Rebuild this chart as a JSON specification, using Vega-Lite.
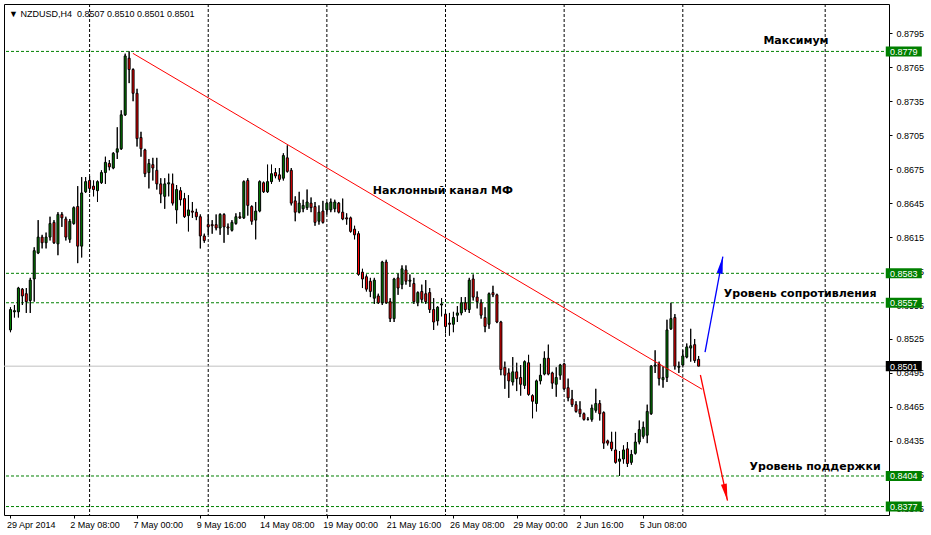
{
  "$schema": "https://vega.github.io/schema/vega-lite/v6.json",
  "width": 885,
  "height": 511,
  "autosize": {"type": "none"},
  "padding": {"left": 4, "top": 4, "right": 42, "bottom": 20},
  "background": "white",
  "title": {
    "text": "▼ NZDUSD,H4\u00a0\u00a00.8507 0.8510 0.8501 0.8501",
    "anchor": "start", "frame": "group", "orient": "top", "offset": 0,
    "baseline": "top", "dx": 5, "dy": 15,
    "font": "Liberation Sans", "fontSize": 9, "fontWeight": "normal", "color": "black"
  },
  "datasets": {
    "candles": [
      {"k":0,"o":0.8533,"h":0.8553,"l":0.8531,"c":0.8551},
      {"k":1,"o":0.8549,"h":0.8555,"l":0.8544,"c":0.8550},
      {"k":2,"o":0.8549,"h":0.8571,"l":0.8544,"c":0.8570},
      {"k":3,"o":0.8569,"h":0.8570,"l":0.8555,"c":0.8563},
      {"k":4,"o":0.8565,"h":0.8570,"l":0.8548,"c":0.8558},
      {"k":5,"o":0.8559,"h":0.8579,"l":0.8548,"c":0.8577},
      {"k":6,"o":0.8578,"h":0.8606,"l":0.8558,"c":0.8603},
      {"k":7,"o":0.8601,"h":0.8630,"l":0.8600,"c":0.8615},
      {"k":8,"o":0.8615,"h":0.8617,"l":0.8605,"c":0.8610},
      {"k":9,"o":0.8610,"h":0.8619,"l":0.8605,"c":0.8615},
      {"k":10,"o":0.8615,"h":0.8633,"l":0.8612,"c":0.8627},
      {"k":11,"o":0.8628,"h":0.8630,"l":0.8609,"c":0.8610},
      {"k":12,"o":0.8609,"h":0.8637,"l":0.8599,"c":0.8635},
      {"k":13,"o":0.8635,"h":0.8637,"l":0.8624,"c":0.8632},
      {"k":14,"o":0.8631,"h":0.8633,"l":0.8612,"c":0.8615},
      {"k":15,"o":0.8613,"h":0.8631,"l":0.8610,"c":0.8629},
      {"k":16,"o":0.8627,"h":0.8642,"l":0.8626,"c":0.8641},
      {"k":17,"o":0.8642,"h":0.8660,"l":0.8592,"c":0.8607},
      {"k":18,"o":0.8607,"h":0.8668,"l":0.8597,"c":0.8654},
      {"k":19,"o":0.8655,"h":0.8668,"l":0.8654,"c":0.8664},
      {"k":20,"o":0.8665,"h":0.8669,"l":0.8654,"c":0.8658},
      {"k":21,"o":0.8660,"h":0.8665,"l":0.8651,"c":0.8657},
      {"k":22,"o":0.8656,"h":0.8665,"l":0.8646,"c":0.8664},
      {"k":23,"o":0.8663,"h":0.8674,"l":0.8662,"c":0.8672},
      {"k":24,"o":0.8672,"h":0.8686,"l":0.8662,"c":0.8681},
      {"k":25,"o":0.8680,"h":0.8683,"l":0.8674,"c":0.8677},
      {"k":26,"o":0.8676,"h":0.8690,"l":0.8675,"c":0.8689},
      {"k":27,"o":0.8690,"h":0.8712,"l":0.8684,"c":0.8693},
      {"k":28,"o":0.8693,"h":0.8727,"l":0.8692,"c":0.8723},
      {"k":29,"o":0.8723,"h":0.8777,"l":0.8722,"c":0.8775},
      {"k":30,"o":0.8773,"h":0.8779,"l":0.8751,"c":0.8763},
      {"k":31,"o":0.8763,"h":0.8764,"l":0.8735,"c":0.8742},
      {"k":32,"o":0.8742,"h":0.8746,"l":0.8695,"c":0.8702},
      {"k":33,"o":0.8703,"h":0.8708,"l":0.8686,"c":0.8693},
      {"k":34,"o":0.8692,"h":0.8693,"l":0.8668,"c":0.8671},
      {"k":35,"o":0.8672,"h":0.8684,"l":0.8658,"c":0.8680},
      {"k":36,"o":0.8679,"h":0.8685,"l":0.8665,"c":0.8676},
      {"k":37,"o":0.8674,"h":0.8685,"l":0.8657,"c":0.8662},
      {"k":38,"o":0.8662,"h":0.8667,"l":0.8645,"c":0.8653},
      {"k":39,"o":0.8651,"h":0.8667,"l":0.8640,"c":0.8662},
      {"k":40,"o":0.8662,"h":0.8671,"l":0.8651,"c":0.8663},
      {"k":41,"o":0.8662,"h":0.8671,"l":0.8643,"c":0.8645},
      {"k":42,"o":0.8639,"h":0.8661,"l":0.8627,"c":0.8657},
      {"k":43,"o":0.8656,"h":0.8659,"l":0.8643,"c":0.8648},
      {"k":44,"o":0.8649,"h":0.8654,"l":0.8632,"c":0.8633},
      {"k":45,"o":0.8634,"h":0.8652,"l":0.8620,"c":0.8639},
      {"k":46,"o":0.8638,"h":0.8646,"l":0.8632,"c":0.8637},
      {"k":47,"o":0.8637,"h":0.8640,"l":0.8630,"c":0.8633},
      {"k":48,"o":0.8633,"h":0.8635,"l":0.8605,"c":0.8616},
      {"k":49,"o":0.8616,"h":0.8618,"l":0.8610,"c":0.8612},
      {"k":50,"o":0.8626,"h":0.8635,"l":0.8617,"c":0.8624},
      {"k":51,"o":0.8626,"h":0.8630,"l":0.8618,"c":0.8625},
      {"k":52,"o":0.8626,"h":0.8635,"l":0.8621,"c":0.8623},
      {"k":53,"o":0.8623,"h":0.8636,"l":0.8617,"c":0.8635},
      {"k":54,"o":0.8635,"h":0.8636,"l":0.8610,"c":0.8624},
      {"k":55,"o":0.8624,"h":0.8627,"l":0.8617,"c":0.8623},
      {"k":56,"o":0.8621,"h":0.8630,"l":0.8620,"c":0.8628},
      {"k":57,"o":0.8627,"h":0.8636,"l":0.8626,"c":0.8633},
      {"k":58,"o":0.8633,"h":0.8637,"l":0.8631,"c":0.8632},
      {"k":59,"o":0.8632,"h":0.8665,"l":0.8631,"c":0.8664},
      {"k":60,"o":0.8665,"h":0.8667,"l":0.8634,"c":0.8643},
      {"k":61,"o":0.8642,"h":0.8643,"l":0.8626,"c":0.8629},
      {"k":62,"o":0.8630,"h":0.8646,"l":0.8613,"c":0.8638},
      {"k":63,"o":0.8638,"h":0.8665,"l":0.8637,"c":0.8664},
      {"k":64,"o":0.8663,"h":0.8664,"l":0.8654,"c":0.8655},
      {"k":65,"o":0.8655,"h":0.8679,"l":0.8654,"c":0.8664},
      {"k":66,"o":0.8664,"h":0.8679,"l":0.8662,"c":0.8671},
      {"k":67,"o":0.8672,"h":0.8676,"l":0.8667,"c":0.8669},
      {"k":68,"o":0.8670,"h":0.8676,"l":0.8664,"c":0.8666},
      {"k":69,"o":0.8667,"h":0.8689,"l":0.8665,"c":0.8687},
      {"k":70,"o":0.8685,"h":0.8696,"l":0.8672,"c":0.8673},
      {"k":71,"o":0.8674,"h":0.8676,"l":0.8643,"c":0.8645},
      {"k":72,"o":0.8647,"h":0.8651,"l":0.8629,"c":0.8637},
      {"k":73,"o":0.8637,"h":0.8655,"l":0.8636,"c":0.8645},
      {"k":74,"o":0.8640,"h":0.8648,"l":0.8637,"c":0.8643},
      {"k":75,"o":0.8641,"h":0.8657,"l":0.8639,"c":0.8646},
      {"k":76,"o":0.8645,"h":0.8650,"l":0.8637,"c":0.8641},
      {"k":77,"o":0.8642,"h":0.8646,"l":0.8625,"c":0.8628},
      {"k":78,"o":0.8629,"h":0.8643,"l":0.8626,"c":0.8637},
      {"k":79,"o":0.8638,"h":0.8647,"l":0.8627,"c":0.8628},
      {"k":80,"o":0.8639,"h":0.8646,"l":0.8635,"c":0.8645},
      {"k":81,"o":0.8639,"h":0.8649,"l":0.8637,"c":0.8646},
      {"k":82,"o":0.8640,"h":0.8648,"l":0.8637,"c":0.8646},
      {"k":83,"o":0.8645,"h":0.8646,"l":0.8636,"c":0.8637},
      {"k":84,"o":0.8637,"h":0.8649,"l":0.8630,"c":0.8631},
      {"k":85,"o":0.8632,"h":0.8636,"l":0.8626,"c":0.8631},
      {"k":86,"o":0.8632,"h":0.8633,"l":0.8619,"c":0.8620},
      {"k":87,"o":0.8622,"h":0.8625,"l":0.8613,"c":0.8617},
      {"k":88,"o":0.8618,"h":0.8620,"l":0.8581,"c":0.8582},
      {"k":89,"o":0.8584,"h":0.8587,"l":0.8570,"c":0.8578},
      {"k":90,"o":0.8580,"h":0.8582,"l":0.8567,"c":0.8569},
      {"k":91,"o":0.8576,"h":0.8579,"l":0.8562,"c":0.8567},
      {"k":92,"o":0.8561,"h":0.8579,"l":0.8556,"c":0.8577},
      {"k":93,"o":0.8563,"h":0.8565,"l":0.8556,"c":0.8557},
      {"k":94,"o":0.8557,"h":0.8594,"l":0.8555,"c":0.8593},
      {"k":95,"o":0.8593,"h":0.8595,"l":0.8556,"c":0.8557},
      {"k":96,"o":0.8558,"h":0.8561,"l":0.8540,"c":0.8543},
      {"k":97,"o":0.8543,"h":0.8579,"l":0.8540,"c":0.8578},
      {"k":98,"o":0.8579,"h":0.8583,"l":0.8564,"c":0.8570},
      {"k":99,"o":0.8573,"h":0.8590,"l":0.8569,"c":0.8587},
      {"k":100,"o":0.8586,"h":0.8590,"l":0.8573,"c":0.8576},
      {"k":101,"o":0.8576,"h":0.8582,"l":0.8571,"c":0.8577},
      {"k":102,"o":0.8574,"h":0.8579,"l":0.8556,"c":0.8558},
      {"k":103,"o":0.8557,"h":0.8567,"l":0.8554,"c":0.8566},
      {"k":104,"o":0.8567,"h":0.8573,"l":0.8557,"c":0.8560},
      {"k":105,"o":0.8565,"h":0.8577,"l":0.8556,"c":0.8558},
      {"k":106,"o":0.8566,"h":0.8570,"l":0.8548,"c":0.8551},
      {"k":107,"o":0.8551,"h":0.8561,"l":0.8533,"c":0.8540},
      {"k":108,"o":0.8541,"h":0.8554,"l":0.8537,"c":0.8553},
      {"k":109,"o":0.8555,"h":0.8561,"l":0.8545,"c":0.8556},
      {"k":110,"o":0.8547,"h":0.8549,"l":0.8530,"c":0.8536},
      {"k":111,"o":0.8539,"h":0.8548,"l":0.8528,"c":0.8538},
      {"k":112,"o":0.8538,"h":0.8549,"l":0.8531,"c":0.8544},
      {"k":113,"o":0.8546,"h":0.8554,"l":0.8540,"c":0.8548},
      {"k":114,"o":0.8548,"h":0.8562,"l":0.8546,"c":0.8557},
      {"k":115,"o":0.8557,"h":0.8562,"l":0.8549,"c":0.8551},
      {"k":116,"o":0.8551,"h":0.8579,"l":0.8548,"c":0.8577},
      {"k":117,"o":0.8578,"h":0.8582,"l":0.8559,"c":0.8562},
      {"k":118,"o":0.8562,"h":0.8567,"l":0.8552,"c":0.8558},
      {"k":119,"o":0.8557,"h":0.8560,"l":0.8543,"c":0.8546},
      {"k":120,"o":0.8544,"h":0.8553,"l":0.8531,"c":0.8536},
      {"k":121,"o":0.8538,"h":0.8566,"l":0.8534,"c":0.8565},
      {"k":122,"o":0.8566,"h":0.8572,"l":0.8562,"c":0.8564},
      {"k":123,"o":0.8564,"h":0.8565,"l":0.8539,"c":0.8540},
      {"k":124,"o":0.8540,"h":0.8541,"l":0.8493,"c":0.8498},
      {"k":125,"o":0.8500,"h":0.8505,"l":0.8481,"c":0.8493},
      {"k":126,"o":0.8495,"h":0.8499,"l":0.8473,"c":0.8488},
      {"k":127,"o":0.8487,"h":0.8509,"l":0.8484,"c":0.8496},
      {"k":128,"o":0.8496,"h":0.8504,"l":0.8479,"c":0.8490},
      {"k":129,"o":0.8491,"h":0.8502,"l":0.8475,"c":0.8485},
      {"k":130,"o":0.8484,"h":0.8506,"l":0.8481,"c":0.8505},
      {"k":131,"o":0.8504,"h":0.8511,"l":0.8475,"c":0.8476},
      {"k":132,"o":0.8475,"h":0.8476,"l":0.8455,"c":0.8470},
      {"k":133,"o":0.8468,"h":0.8489,"l":0.8461,"c":0.8488},
      {"k":134,"o":0.8488,"h":0.8503,"l":0.8485,"c":0.8493},
      {"k":135,"o":0.8494,"h":0.8514,"l":0.8493,"c":0.8508},
      {"k":136,"o":0.8508,"h":0.8520,"l":0.8493,"c":0.8494},
      {"k":137,"o":0.8495,"h":0.8496,"l":0.8481,"c":0.8486},
      {"k":138,"o":0.8485,"h":0.8500,"l":0.8474,"c":0.8491},
      {"k":139,"o":0.8493,"h":0.8503,"l":0.8489,"c":0.8502},
      {"k":140,"o":0.8503,"h":0.8504,"l":0.8480,"c":0.8481},
      {"k":141,"o":0.8482,"h":0.8490,"l":0.8470,"c":0.8473},
      {"k":142,"o":0.8472,"h":0.8480,"l":0.8465,"c":0.8467},
      {"k":143,"o":0.8467,"h":0.8470,"l":0.8460,"c":0.8461},
      {"k":144,"o":0.8463,"h":0.8470,"l":0.8456,"c":0.8459},
      {"k":145,"o":0.8459,"h":0.8460,"l":0.8453,"c":0.8454},
      {"k":146,"o":0.8454,"h":0.8456,"l":0.8453,"c":0.8454},
      {"k":147,"o":0.8454,"h":0.8467,"l":0.8452,"c":0.8464},
      {"k":148,"o":0.8462,"h":0.8481,"l":0.8460,"c":0.8468},
      {"k":149,"o":0.8468,"h":0.8471,"l":0.8453,"c":0.8459},
      {"k":150,"o":0.8460,"h":0.8461,"l":0.8428,"c":0.8433},
      {"k":151,"o":0.8435,"h":0.8436,"l":0.8431,"c":0.8433},
      {"k":152,"o":0.8434,"h":0.8443,"l":0.8426,"c":0.8428},
      {"k":153,"o":0.8427,"h":0.8443,"l":0.8415,"c":0.8416},
      {"k":154,"o":0.8417,"h":0.8426,"l":0.8404,"c":0.8419},
      {"k":155,"o":0.8419,"h":0.8431,"l":0.8415,"c":0.8427},
      {"k":156,"o":0.8428,"h":0.8434,"l":0.8412,"c":0.8415},
      {"k":157,"o":0.8416,"h":0.8427,"l":0.8414,"c":0.8423},
      {"k":158,"o":0.8424,"h":0.8442,"l":0.8423,"c":0.8434},
      {"k":159,"o":0.8434,"h":0.8453,"l":0.8432,"c":0.8445},
      {"k":160,"o":0.8439,"h":0.8452,"l":0.8437,"c":0.8447},
      {"k":161,"o":0.8440,"h":0.8467,"l":0.8433,"c":0.8461},
      {"k":162,"o":0.8459,"h":0.8502,"l":0.8458,"c":0.8501},
      {"k":163,"o":0.8501,"h":0.8515,"l":0.8495,"c":0.8502},
      {"k":164,"o":0.8503,"h":0.8505,"l":0.8484,"c":0.8490},
      {"k":165,"o":0.8489,"h":0.8501,"l":0.8482,"c":0.8491},
      {"k":166,"o":0.8491,"h":0.8542,"l":0.8487,"c":0.8533},
      {"k":167,"o":0.8534,"h":0.8557,"l":0.8533,"c":0.8543},
      {"k":168,"o":0.8544,"h":0.8547,"l":0.8498,"c":0.8501},
      {"k":169,"o":0.8500,"h":0.8505,"l":0.8495,"c":0.8501},
      {"k":170,"o":0.8502,"h":0.8515,"l":0.8500,"c":0.8510},
      {"k":171,"o":0.8509,"h":0.8521,"l":0.8508,"c":0.8518},
      {"k":172,"o":0.8517,"h":0.8534,"l":0.8505,"c":0.8519},
      {"k":173,"o":0.8520,"h":0.8525,"l":0.8504,"c":0.8506},
      {"k":174,"o":0.8507,"h":0.8510,"l":0.8501,"c":0.8501}
    ],
    "levels": [
      {"price":0.8779,"kind":"level"},
      {"price":0.8583,"kind":"level"},
      {"price":0.8557,"kind":"level"},
      {"price":0.8404,"kind":"level"},
      {"price":0.8377,"kind":"level"},
      {"price":0.8501,"kind":"bid"}
    ]
  },
  "layer": [
    {
      "data": {"name": "candles"},
      "mark": {"type": "rule", "color": "black", "strokeWidth": 1},
      "encoding": {
        "x": {
          "field": "k", "type": "quantitative", "title": null,
          "scale": {"domain": [-0.375, 220.875], "nice": false, "zero": false},
          "axis": {
            "title": null,
            "values": [0, 16, 32, 48, 64, 80, 96, 112, 128, 144, 160],
            "tickCount": 30,
            "labelExpr": "['29 Apr 2014','2 May 08:00','7 May 00:00','9 May 16:00','14 May 08:00','19 May 00:00','21 May 16:00','26 May 08:00','29 May 00:00','2 Jun 16:00','5 Jun 08:00'][round(datum.value/16)]",
            "labelAlign": "left", "labelBaseline": "top", "labelPadding": 2, "labelOffset": -4,
            "labelFlush": false, "labelOverlap": false, "labelBound": false,
            "tickSize": 3, "orient": "bottom", "grid": false, "domain": false
          }
        },
        "y": {
          "field": "l", "type": "quantitative", "title": null,
          "scale": {"domain": [0.836954, 0.882088], "nice": false, "zero": false},
          "axis": {
            "title": null, "orient": "right",
            "values": [0.8795, 0.8765, 0.8735, 0.8705, 0.8675, 0.8645, 0.8615, 0.8585, 0.8555, 0.8525, 0.8495, 0.8465, 0.8435, 0.8405, 0.8375],
            "tickCount": 30,
            "format": ".4f",
            "labelAlign": "left", "labelBaseline": "middle", "labelPadding": 4,
            "labelFlush": false, "labelOverlap": false, "labelBound": false, "labelSeparation": 0,
            "tickSize": 3, "grid": false, "domain": false
          }
        },
        "y2": {"field": "h"}
      }
    },
    {
      "data": {"values": [{"k":20},{"k":50},{"k":80},{"k":110},{"k":140},{"k":170},{"k":206}]},
      "mark": {"type": "rule", "color": "black", "strokeWidth": 1, "strokeDash": [3, 2]},
      "encoding": {
        "x": {"field": "k", "type": "quantitative", "title": null}
      }
    },
    {
      "data": {"name": "levels"},
      "transform": [{"filter": "datum.kind == 'level'"}],
      "mark": {"type": "rule", "color": "#008000", "strokeWidth": 1, "strokeDash": [3, 2]},
      "encoding": {
        "y": {"field": "price", "type": "quantitative", "title": null}
      }
    },
    {
      "data": {"name": "levels"},
      "transform": [{"filter": "datum.kind == 'bid'"}],
      "mark": {"type": "rule", "color": "#C0C0C0", "strokeWidth": 1},
      "encoding": {
        "y": {"field": "price", "type": "quantitative", "title": null}
      }
    },
    {
      "data": {"name": "candles"},
      "mark": {"type": "rule", "color": "black", "strokeWidth": 1},
      "encoding": {
        "x": {"field": "k", "type": "quantitative", "title": null},
        "y": {"field": "l", "type": "quantitative", "title": null},
        "y2": {"field": "h"}
      }
    },
    {
      "data": {"name": "candles"},
      "mark": {"type": "bar", "width": 2, "stroke": "black", "strokeWidth": 1},
      "encoding": {
        "x": {"field": "k", "type": "quantitative", "title": null},
        "y": {"field": "o", "type": "quantitative", "title": null},
        "y2": {"field": "c"},
        "fill": {"condition": {"test": "datum.c >= datum.o", "value": "#008000"}, "value": "#FF0000"}
      }
    },
    {
      "data": {"values": [{"k": 30.95, "p": 0.87773}, {"k": 174.875, "p": 0.84806}]},
      "mark": {"type": "line", "color": "#FF0000", "strokeWidth": 1},
      "encoding": {
        "x": {"field": "k", "type": "quantitative", "title": null},
        "y": {"field": "p", "type": "quantitative", "title": null}
      }
    },
    {
      "data": {"values": [{"k": 175.625, "p": 0.85135}, {"k": 180.125, "p": 0.85977}]},
      "mark": {"type": "line", "color": "#0000FF", "strokeWidth": 1.3},
      "encoding": {
        "x": {"field": "k", "type": "quantitative", "title": null},
        "y": {"field": "p", "type": "quantitative", "title": null}
      }
    },
    {
      "data": {"values": [{"k": 174.45, "p": 0.84932}, {"k": 181.3, "p": 0.83822}]},
      "mark": {"type": "line", "color": "#FF0000", "strokeWidth": 1.3},
      "encoding": {
        "x": {"field": "k", "type": "quantitative", "title": null},
        "y": {"field": "p", "type": "quantitative", "title": null}
      }
    },
    {
      "data": {"values": [{"k": 180.125, "p": 0.85977}]},
      "mark": {"type": "point", "shape": "M0,0L0.35,2L-0.35,2Z", "size": 289, "angle": 10.7, "filled": true, "fill": "#0000FF", "strokeWidth": 0, "opacity": 1},
      "encoding": {
        "x": {"field": "k", "type": "quantitative", "title": null},
        "y": {"field": "p", "type": "quantitative", "title": null}
      }
    },
    {
      "data": {"values": [{"k": 181.3, "p": 0.83822}]},
      "mark": {"type": "point", "shape": "M0,0L0.35,2L-0.35,2Z", "size": 289, "angle": 167.7, "filled": true, "fill": "#FF0000", "strokeWidth": 0, "opacity": 1},
      "encoding": {
        "x": {"field": "k", "type": "quantitative", "title": null},
        "y": {"field": "p", "type": "quantitative", "title": null}
      }
    },
    {
      "data": {"values": [
        {"label": "Максимум", "k": 190.375, "p": 0.878555},
        {"label": "Наклонный канал МФ", "k": 91.625, "p": 0.86528},
        {"label": "Уровень сопротивления", "k": 180.375, "p": 0.856182},
        {"label": "Уровень поддержки", "k": 186.875, "p": 0.840929}
      ]},
      "mark": {"type": "text", "align": "left", "baseline": "alphabetic", "font": "DejaVu Sans", "fontWeight": "bold", "fontSize": 11, "color": "black"},
      "encoding": {
        "x": {"field": "k", "type": "quantitative", "title": null},
        "y": {"field": "p", "type": "quantitative", "title": null},
        "text": {"field": "label"}
      }
    },
    {
      "data": {"name": "levels"},
      "mark": {"type": "point", "shape": "M-2,-0.56H2V0.56H-2Z", "size": 324, "filled": true, "strokeWidth": 0, "opacity": 1},
      "encoding": {
        "x": {"datum": 225.875, "type": "quantitative", "title": null},
        "y": {"field": "price", "type": "quantitative", "title": null},
        "fill": {"condition": {"test": "datum.kind == 'bid'", "value": "#000000"}, "value": "#008000"}
      }
    },
    {
      "data": {"name": "levels"},
      "mark": {"type": "text", "align": "center", "baseline": "middle", "font": "Liberation Sans", "fontSize": 9, "color": "white", "dy": 0.5},
      "encoding": {
        "x": {"datum": 225.875, "type": "quantitative", "title": null},
        "y": {"field": "price", "type": "quantitative", "title": null},
        "text": {"field": "price", "type": "quantitative", "format": ".4f"}
      }
    }
  ],
  "config": {
    "view": {"stroke": "#000000", "strokeWidth": 1, "fill": "white"},
    "axis": {
      "labelFont": "Liberation Sans", "labelFontSize": 9, "labelColor": "#000000",
      "tickColor": "#000000", "tickWidth": 1, "domain": false, "grid": false,
      "labelOverlap": false, "labelSeparation": 0
    }
  }
}
